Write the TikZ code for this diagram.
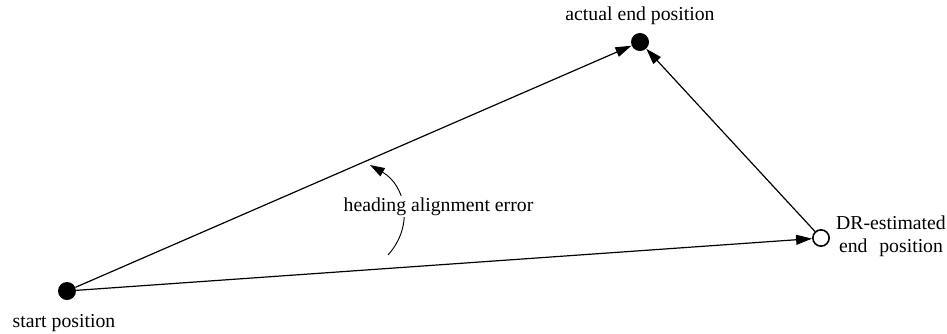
\documentclass[tikz,border=0pt]{standalone}
\usepackage{fontspec}
\setmainfont{Liberation Serif}
\usetikzlibrary{arrows.meta}
\begin{document}
\begin{tikzpicture}[x=0.75pt,y=-0.75pt,
  every node/.style={font=\fontsize{14.8}{17.25}\selectfont},
  fulldot/.style={circle,fill=black,draw=none,minimum size=13.5pt,inner sep=0pt},
  opendot/.style={circle,fill=white,draw=black,line width=1.2pt,minimum size=12.2pt,inner sep=0pt},
  conn/.style={line width=0.9pt,-{Triangle[length=12pt,width=7.5pt]}},
  lbl/.style={inner sep=0pt}]
\useasboundingbox (0,0) rectangle (947,333);
\node[fulldot] (start) at (67,291) {};
\node[fulldot] (actual) at (640,42) {};
\node[opendot] (dr) at (821,238) {};
\draw[conn] (start) -- (actual);
\draw[conn] (start) -- (dr);
\draw[conn] (dr) -- (actual);
\coordinate (arcA) at (388,255);
\coordinate (arcB) at (370,165);
\draw[line width=0.7pt,-{Triangle[length=11pt,width=7pt]}] (arcA) .. controls (415,225) and (405,185) .. (arcB);
\node[lbl,anchor=base,fill=white,inner sep=1pt] (err) at (438.5,211) {heading alignment error};
\node[lbl,anchor=base] (actlbl) at (640,20) {actual end position};
\node[lbl,anchor=base] (startlbl) at (64,327) {start position};
\node[lbl,align=center] (drlbl) at (891,236) {DR-estimated\\end\hspace{0.6em}position};
\end{tikzpicture}
\end{document}
